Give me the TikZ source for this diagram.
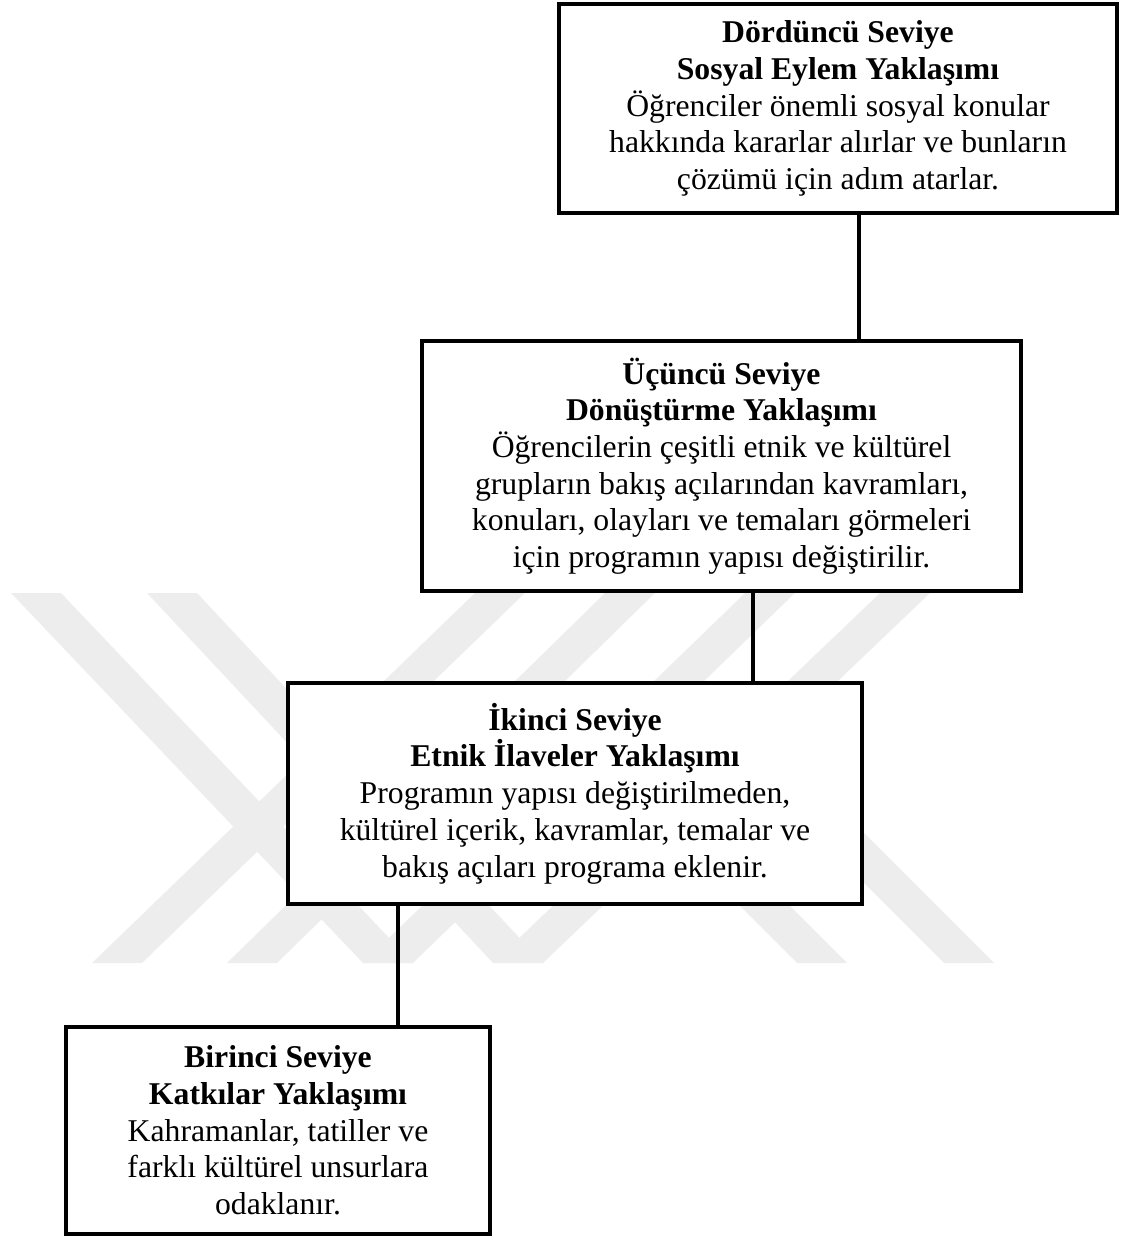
\documentclass[tikz,border=0pt]{standalone}
\usepackage{fontspec}
\setmainfont{Liberation Serif}
\definecolor{wmgray}{HTML}{EDEDED}
\tikzset{
  lvlbox/.style={draw=black, line width=4pt, fill=white, align=center,
    inner sep=0pt, font=\fontsize{31.7}{36.7}\selectfont},
  conn/.style={draw=black, line width=4pt},
  wmband/.style={fill=wmgray, draw=none}
}
\newcommand{\wmband}[2]{%
  \fill[wmband] (#1-25,593) -- (#1+25,593) -- (#2+25,963) -- (#2-25,963) -- cycle;}
\begin{document}
\begin{tikzpicture}[x=1pt,y=-1pt]
\useasboundingbox (0,0) rectangle (1123,1238);
% watermark
\wmband{36}{388}
\wmband{172}{518}
\wmband{500}{117}
\wmband{630}{252}
\wmband{770}{388}
\wmband{905}{518}
\fill[wmband] (584,750) -- (634,750) -- (847,963) -- (797,963) -- cycle;
\fill[wmband] (731,750) -- (781,750) -- (994,963) -- (944,963) -- cycle;
% boxes
\node[lvlbox, minimum width=558pt, minimum height=209pt] (b4) at (838,108.5)
  {\textbf{Dördüncü Seviye}\\ \textbf{Sosyal Eylem Yaklaşımı}\\ Öğrenciler önemli sosyal konular\\ hakkında kararlar alırlar ve bunların\\ çözümü için adım atarlar.};
\node[lvlbox, minimum width=599pt, minimum height=250pt] (b3) at (721.5,466)
  {\textbf{Üçüncü Seviye}\\ \textbf{Dönüştürme Yaklaşımı}\\ Öğrencilerin çeşitli etnik ve kültürel\\ grupların bakış açılarından kavramları,\\ konuları, olayları ve temaları görmeleri\\ için programın yapısı değiştirilir.};
\node[lvlbox, minimum width=574pt, minimum height=221pt] (b2) at (575,793.5)
  {\textbf{İkinci Seviye}\\ \textbf{Etnik İlaveler Yaklaşımı}\\ Programın yapısı değiştirilmeden,\\ kültürel içerik, kavramlar, temalar ve\\ bakış açıları programa eklenir.};
\node[lvlbox, minimum width=424pt, minimum height=207pt] (b1) at (278,1130.5)
  {\textbf{Birinci Seviye}\\ \textbf{Katkılar Yaklaşımı}\\ Kahramanlar, tatiller ve\\ farklı kültürel unsurlara\\ odaklanır.};
% connectors
\coordinate (k43) at (859,0);
\coordinate (k32) at (753,0);
\coordinate (k21) at (398,0);
\draw[conn] (b4.south -| k43) -- (b3.north -| k43);
\draw[conn] (b3.south -| k32) -- (b2.north -| k32);
\draw[conn] (b2.south -| k21) -- (b1.north -| k21);
\end{tikzpicture}
\end{document}
